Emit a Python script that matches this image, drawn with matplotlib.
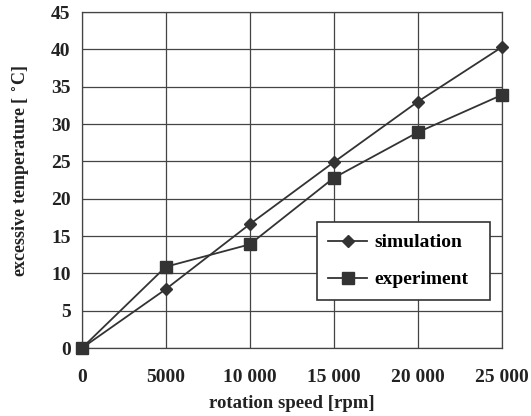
import matplotlib.pyplot as plt

# data
speed = [0, 5000, 10000, 15000, 20000, 25000]
simulation = [0, 7.9, 16.6, 24.9, 33.0, 40.3]
experiment = [0, 10.9, 13.9, 22.8, 28.9, 33.9]
x_ticks = [0, 5000, 10000, 15000, 20000, 25000]
x_labels = ['0', '5000', '10 000', '15 000', '20 000', '25 000']
y_ticks = [0, 5, 10, 15, 20, 25, 30, 35, 40, 45]

plt.rcParams['font.family'] = ['Liberation Serif', 'DejaVu Serif']
plt.rcParams['font.weight'] = 'bold'

fig = plt.figure(figsize=(5.31, 4.16), dpi=100)
ax = fig.add_axes([0.154, 0.163, 0.791, 0.808])

line_col = '#333333'
ax.plot(speed, simulation, color=line_col, lw=1.3, marker='D', markersize=6,
        label='simulation', clip_on=False, zorder=3)
ax.plot(speed, experiment, color=line_col, lw=1.3, marker='s', markersize=8,
        label='experiment', clip_on=False, zorder=3)

ax.set_xlim(0, 25000)
ax.set_ylim(0, 45)
ax.set_xticks(x_ticks)
ax.set_xticklabels(x_labels)
ax.set_yticks(y_ticks)
ax.grid(True, color='#444444', lw=0.9)
ax.set_axisbelow(True)
for s in ax.spines.values():
    s.set_color('#444444')
    s.set_linewidth(0.9)
ax.tick_params(axis='both', length=0, labelsize=14, colors='#222222')
ax.tick_params(axis='x', pad=15)
ax.tick_params(axis='y', pad=8)

ax.set_xlabel('rotation speed [rpm]', fontsize=13.5, fontweight='bold', color='#222222',
              va='center', ha='center')
ax.set_ylabel('excessive temperature [ $^{\\circ}$C]', fontsize=13, fontweight='bold',
              color='#222222', va='center', ha='center')
ax.xaxis.set_label_coords(0.501, -0.164)
ax.yaxis.set_label_coords(-0.143, 0.527)

leg = ax.legend(loc='upper left', bbox_to_anchor=(0.5595, 0.146, 0.412, 0.229),
                mode='expand', borderaxespad=0, fancybox=False,
                edgecolor='#333333', fontsize=14, handlelength=2.0, handletextpad=0.35,
                borderpad=0.6, labelspacing=1.0, framealpha=1)
leg.get_frame().set_linewidth(1.2)

fig.savefig('out.png', dpi=100)
